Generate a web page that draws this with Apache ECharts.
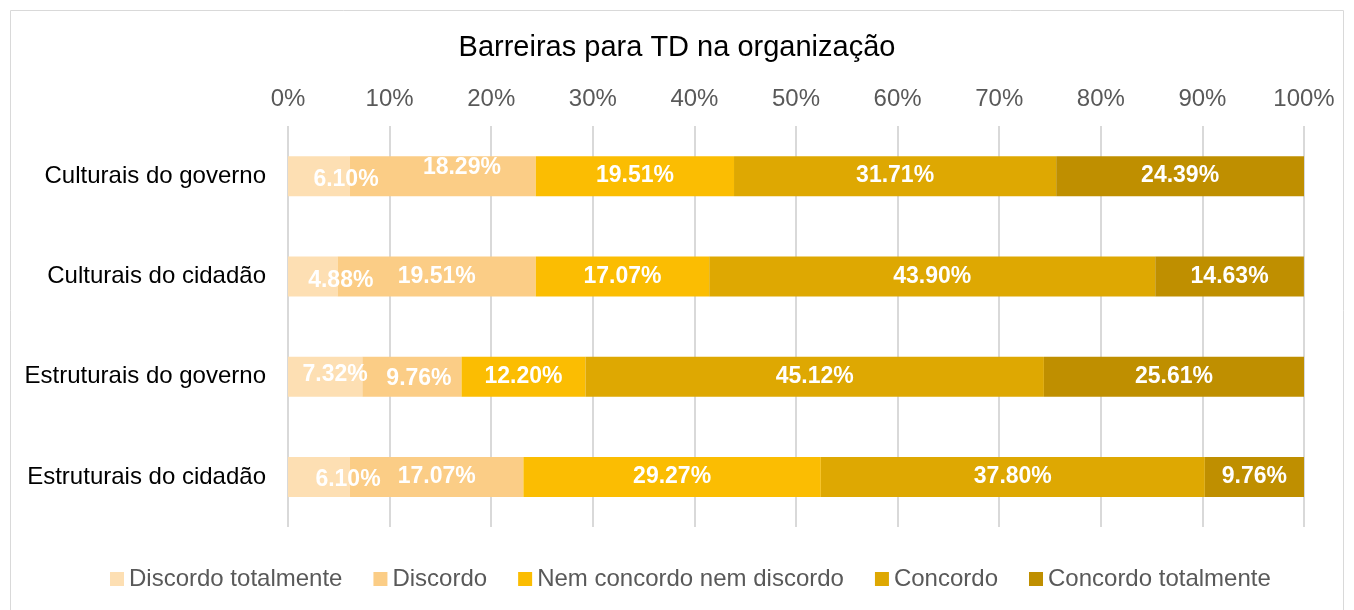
<!DOCTYPE html>
<html lang="pt">
<head>
    <meta charset="UTF-8">
    <title>Barreiras para TD na organização</title>
    <script type="text/javascript" src="https://cdn.jsdelivr.net/npm/echarts@6/dist/echarts.min.js"></script>
</head>
<body style="margin:0">
<div id="main" style="width: 1354px; height: 610px;"></div>
<script type="text/javascript">
    // categorias (de cima para baixo)
    var categories = ['Culturais do governo', 'Culturais do cidadão', 'Estruturais do governo', 'Estruturais do cidadão'];

    // valores em %
    var discordoTotalmente = [6.10, 4.88, 7.32, 6.10];
    var discordo = [18.29, 19.51, 9.76, 17.07];
    var nemNem = [19.51, 17.07, 12.20, 29.27];
    var concordo = [31.71, 43.90, 45.12, 37.80];
    var concordoTotalmente = [24.39, 14.63, 25.61, 9.76];

    var seriesNames = ['Discordo totalmente', 'Discordo', 'Nem concordo nem discordo', 'Concordo', 'Concordo totalmente'];
    var seriesData = [discordoTotalmente, discordo, nemNem, concordo, concordoTotalmente];
    var colors = ['#FDDFB3', '#FBCD86', '#FBBD02', '#DEA802', '#BF8F00'];

    // rótulos deslocados à mão no gráfico original (série -> linha -> [dx, dy])
    var labelShift = {
        0: { 0: [27, 4], 1: [28, 4], 2: [10, -2], 3: [29, 3] },
        1: { 0: [19, -8], 2: [7, 2] }
    };

    var myChart = echarts.init(document.getElementById('main'));
    var series = seriesNames.map(function (name, i) {
        return {
            name: name,
            type: 'bar',
            stack: 'total',
            barWidth: 40,
            data: seriesData[i].map(function (v, j) {
                var s = labelShift[i] && labelShift[i][j];
                return s ? { value: v, label: { offset: s } } : v;
            }),
            itemStyle: { color: colors[i] },
            label: {
                show: true,
                position: 'inside',
                color: '#fff',
                fontWeight: 'bold',
                fontSize: 23,
                formatter: function (p) { return p.value.toFixed(2) + '%'; }
            }
        };
    });

    var option = {
        textStyle: { fontFamily: 'Liberation Sans, Arial, sans-serif' },
        title: {
            text: 'Barreiras para TD na organização',
            left: 'center',
            top: 28,
            textStyle: { fontSize: 29, fontWeight: 'normal', color: '#000' }
        },
        graphic: [{
            type: 'rect',
            shape: { x: 10.5, y: 10.5, width: 1333, height: 610 },
            style: { fill: 'none', stroke: '#d9d9d9', lineWidth: 1 },
            silent: true
        }],
        legend: {
            data: seriesNames,
            bottom: 14,
            left: 105,
            itemWidth: 14,
            itemHeight: 14,
            itemGap: 31,
            icon: 'rect',
            textStyle: { fontSize: 24, color: '#595959' }
        },
        grid: { left: 288, right: 50, top: 126, bottom: 83 },
        xAxis: {
            type: 'value',
            position: 'top',
            min: 0,
            max: 100,
            interval: 10,
            axisLabel: { formatter: '{value}%', fontSize: 24, color: '#595959', margin: 15 },
            axisLine: { show: false },
            axisTick: { show: false },
            splitLine: { lineStyle: { color: '#d9d9d9', width: 2 } }
        },
        yAxis: {
            type: 'category',
            inverse: true,
            data: categories,
            axisLabel: { fontSize: 24, color: '#000', margin: 22 },
            axisLine: { show: false },
            axisTick: { show: false }
        },
        series: series
    };
    myChart.setOption(option);
</script>
</body>
</html>
